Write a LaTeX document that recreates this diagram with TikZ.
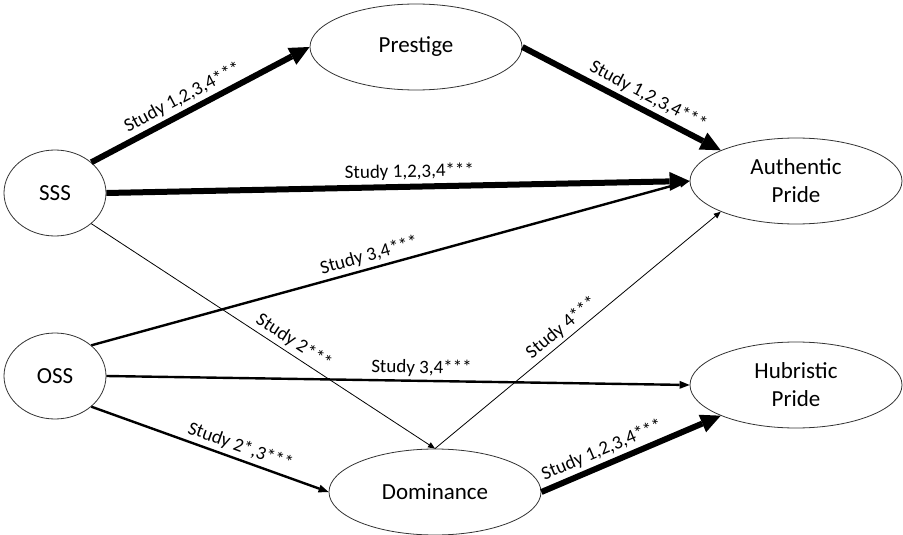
\documentclass[tikz,border=0pt]{standalone}
\usepackage{fontspec}
\setmainfont{Carlito}
\usetikzlibrary{shapes.geometric, arrows.meta, positioning}

\begin{document}
\begin{tikzpicture}[
    on grid,
    construct/.style={ellipse, draw=black!80, line width=0.8pt, minimum width=212pt, minimum height=86pt, inner sep=0pt, align=center, font=\fontsize{23}{28}\selectfont},
    smallconstruct/.style={construct, minimum width=102pt},
    bigarrow/.style={-{Triangle[length=20pt, width=19pt, line width=0pt]}, line width=6pt},
    midarrow/.style={-{Triangle[length=10pt, width=8pt, line width=0pt]}, line width=2.4pt},
    thinarrow/.style={-{Triangle[length=7pt, width=6pt, line width=0pt]}, line width=0.8pt},
    lab/.style={above, sloped, font=\fontsize{19}{22}\selectfont}
]
\useasboundingbox (0,0) rectangle (903pt,-535pt);
\node[smallconstruct] (sss) at (55pt,-193pt) {SSS};
\node[smallconstruct, below=183pt of sss] (oss) {OSS};
\node[construct, above right=146pt and 361pt of sss] (prestige) {Prestige};
\node[construct, below right=134pt and 380pt of prestige] (authentic) {Authentic\\Pride};
\node[construct, below=204pt of authentic] (hubristic) {Hubristic\\Pride};
\node[construct, below right=116pt and 380pt of oss] (dominance) {Dominance};
\draw[bigarrow] (sss.north east) -- node[lab, pos=0.45] {Study 1,2,3,4***} (prestige.west);
\draw[bigarrow] (prestige.east) -- node[lab, pos=0.6] {Study 1,2,3,4***} (authentic.north west);
\draw[bigarrow] (sss.east) -- node[lab, pos=0.52] {Study 1,2,3,4***} (authentic.west);
\draw[thinarrow] (sss.south east) -- node[lab, pos=0.57] {Study 2***} (dominance.north);
\draw[midarrow] (oss.north east) -- node[lab, pos=0.47] {Study 3,4***} (authentic.west);
\draw[midarrow] (oss.east) -- node[lab, pos=0.54] {Study 3,4***} (hubristic.west);
\draw[midarrow] (oss.south east) -- node[lab, pos=0.61] {Study 2*,3***} (dominance.west);
\draw[thinarrow] (dominance.north) -- node[lab, pos=0.47] {Study 4***} (authentic.south west);
\draw[bigarrow] (dominance.east) -- node[lab, pos=0.37] {Study 1,2,3,4***} (hubristic.south west);
\end{tikzpicture}
\end{document}
